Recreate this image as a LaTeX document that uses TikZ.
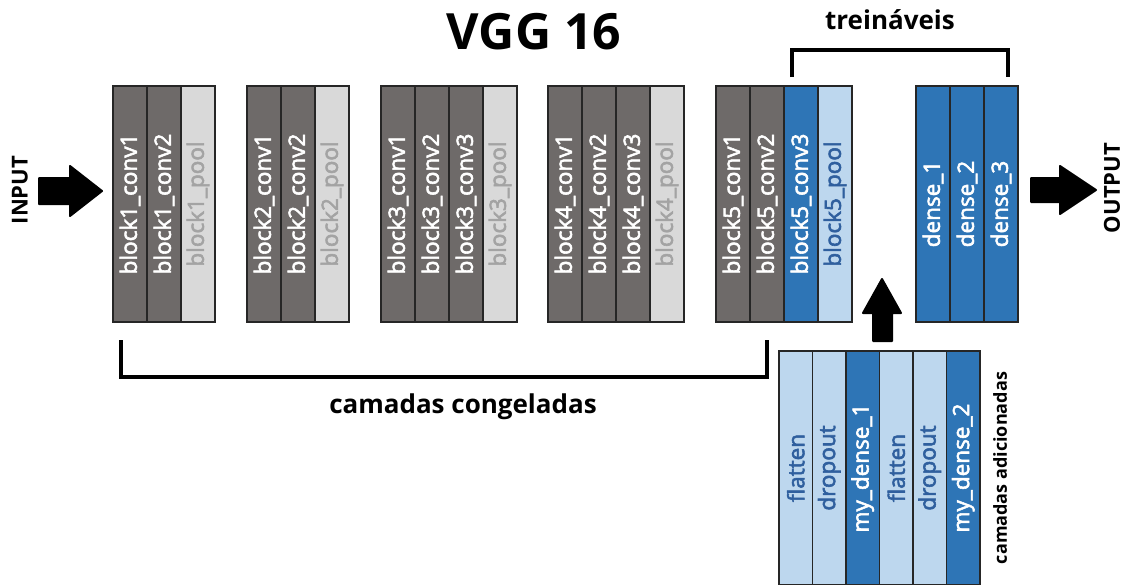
\documentclass[tikz,border=0pt]{standalone}
\usepackage{fontspec}
\setmainfont{Open Sans}
\newfontfamily\semib[FakeBold=2.5]{Open Sans}
\definecolor{conv}{HTML}{6E6A69}
\definecolor{pool}{HTML}{D9D9D9}
\definecolor{pooltxt}{HTML}{A3A3A3}
\definecolor{blue}{HTML}{2E75B6}
\definecolor{lblue}{HTML}{BDD7EE}
\definecolor{lbluetxt}{HTML}{2F5F9E}
\tikzset{
  layer/.style={draw=black!85, line width=1.4pt, rotate=90, minimum width=236pt, minimum height=34pt, inner sep=0pt, font=\fontsize{22.5}{24}\semib},
  convl/.style={layer, fill=conv, text=white},
  pooll/.style={layer, fill=pool, text=pooltxt},
  trainl/.style={layer, fill=blue, text=white},
  ltrainl/.style={layer, fill=lblue, text=lbluetxt},
  addl/.style={minimum width=234pt, minimum height=33.5pt},
  bigarrow/.style={fill=black, draw=black, line width=2pt, line join=round},
  bracket/.style={line width=4.5pt},
  title/.style={font=\fontsize{26}{28}\selectfont\bfseries}
}
\begin{document}
\begin{tikzpicture}[x=1pt,y=-1pt]
\useasboundingbox (0,0) rectangle (1124,584);
\clip (0,0) rectangle (1124,584);
% title
\node[font=\fontsize{50}{54}\selectfont\bfseries] (vgg) at (534,32) {VGG 16};
% block 1
\node[convl] (b1c1) at (130,204) {block1\_conv1};
\node[convl] (b1c2) at (164,204) {block1\_conv2};
\node[pooll] (b1p) at (198,204) {block1\_pool};
% block 2
\node[convl] (b2c1) at (264,204) {block2\_conv1};
\node[convl] (b2c2) at (298,204) {block2\_conv2};
\node[pooll] (b2p) at (332,204) {block2\_pool};
% block 3
\node[convl] (b3c1) at (398,204) {block3\_conv1};
\node[convl] (b3c2) at (432,204) {block3\_conv2};
\node[convl] (b3c3) at (466,204) {block3\_conv3};
\node[pooll] (b3p) at (500,204) {block3\_pool};
% block 4
\node[convl] (b4c1) at (565,204) {block4\_conv1};
\node[convl] (b4c2) at (599,204) {block4\_conv2};
\node[convl] (b4c3) at (633,204) {block4\_conv3};
\node[pooll] (b4p) at (667,204) {block4\_pool};
% block 5
\node[convl] (b5c1) at (733,204) {block5\_conv1};
\node[convl] (b5c2) at (767,204) {block5\_conv2};
\node[trainl] (b5c3) at (801,204) {block5\_conv3};
\node[ltrainl] (b5p) at (835,204) {block5\_pool};
% dense
\node[trainl] (d1) at (933,204) {dense\_1};
\node[trainl] (d2) at (967,204) {dense\_2};
\node[trainl] (d3) at (1001,204) {dense\_3};
% added layers
\node[ltrainl, addl] (a1) at (795.75,468) {flatten};
\node[ltrainl, addl] (a2) at (829.25,468) {dropout};
\node[trainl, addl] (a3) at (862.75,468) {my\_dense\_1};
\node[ltrainl, addl] (a4) at (896.25,468) {flatten};
\node[ltrainl, addl] (a5) at (929.75,468) {dropout};
\node[trainl, addl] (a6) at (963.25,468) {my\_dense\_2};
\node[rotate=90, font=\fontsize{18}{20}\selectfont\bfseries] (adic) at (1000,468) {camadas adicionadas};
% brackets
\coordinate (tl) at (792,77);
\coordinate (tr) at (1008,77);
\draw[bracket] (tl) -- ++(0,-27) -| (tr);
\node[title] (trein) at (890,20) {treináveis};
\coordinate (bl) at (121,340);
\coordinate (br) at (767,340);
\draw[bracket] (bl) -- ++(0,37) -| (br);
\node[title] (cong) at (463,407) {camadas congeladas};
% INPUT arrow
\node[rotate=90, font=\fontsize{22}{24}\selectfont\bfseries] (input) at (20,190) {INPUT};
\draw[bigarrow] (39,178) -- (70,178) -- (70,166) -- (102,191) -- (70,216) -- (70,204) -- (39,204) -- cycle;
% OUTPUT arrow
\node[rotate=90, font=\fontsize{22}{24}\selectfont\bfseries] (output) at (1112,188) {OUTPUT};
\draw[bigarrow] (1031,178) -- (1060,178) -- (1060,166) -- (1096,190) -- (1060,214) -- (1060,202) -- (1031,202) -- cycle;
% up arrow
\draw[bigarrow] (873,341) -- (873,313) -- (863,313) -- (882,279) -- (901,313) -- (892,313) -- (892,341) -- cycle;
\end{tikzpicture}
\end{document}
